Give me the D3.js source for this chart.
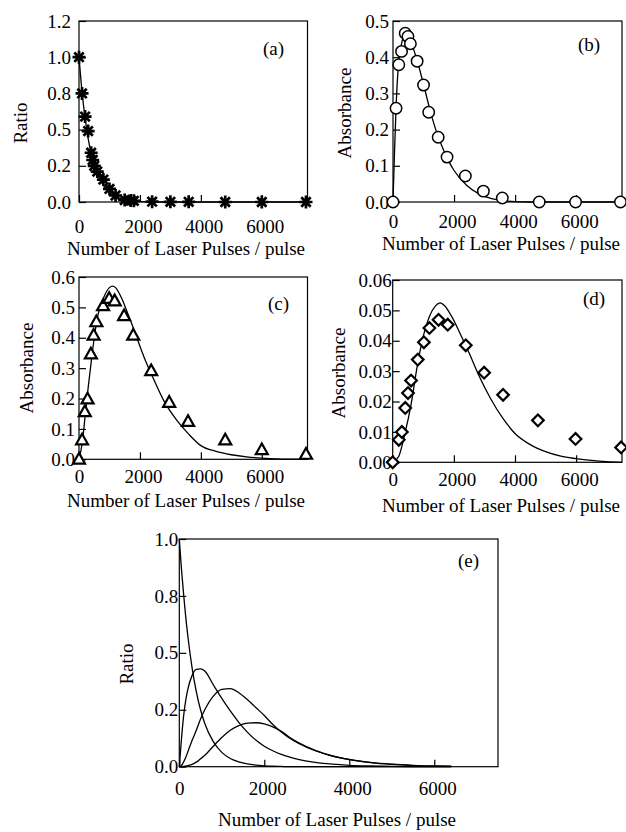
<!DOCTYPE html>
<html><head><meta charset="utf-8">
<script src="https://cdn.jsdelivr.net/npm/d3@7"></script>
<style>body{margin:0;background:#fff} text{font-family:"Liberation Serif","Times New Roman",serif;fill:#000}</style>
</head><body>
<svg id="chart" width="626" height="832"></svg>
<script>
// ---------- data ----------
const xTicks = [0, 2000, 4000, 6000];
const xTickLabels = ["0", "2000", "4000", "6000"];

// panel (a)
const aPulses = [0,100,200,300,400,450,500,600,800,1000,1200,1500,1700,1800,2400,3000,3600,4800,6000,7450];
const aRatio  = [1.0,0.75,0.59,0.49,0.34,0.29,0.25,0.21,0.155,0.09,0.045,0.014,0.01,0.008,0.002,0.001,0.001,0,0,0];
const aFitPulses = [0,100,200,300,400,500,600,800,1000,1200,1500,1800,2200,2600,7500];
const aFitRatio  = [1.0,0.76,0.58,0.44,0.335,0.255,0.195,0.115,0.065,0.037,0.015,0.006,0.002,0,0];
const aYTicks = [0,0.25,0.5,0.75,1.0,1.25];
const aYTickLabels = ["0.0","0.2","0.5","0.8","1.0","1.2"];

// panel (b)
const bPulses = [0,100,190,280,400,490,570,790,1000,1170,1480,1770,2370,2960,3580,4790,5980,7450];
const bAbs    = [0,0.259,0.379,0.416,0.466,0.457,0.437,0.389,0.323,0.248,0.179,0.124,0.072,0.03,0.011,0,0,0];
const bFitPulses = [0,25,50,100,150,200,300,400,500,600,800,1000,1200,1400,1600,1800,2000,2400,2800,3200,3600,4000,4500,7500];
const bFitAbs    = [0,0.07,0.14,0.26,0.345,0.395,0.445,0.465,0.46,0.44,0.388,0.325,0.258,0.2,0.155,0.117,0.087,0.047,0.023,0.01,0.004,0.001,0,0];
const bYTicks = [0,0.1,0.2,0.3,0.4,0.5];
const bYTickLabels = ["0.0","0.1","0.2","0.3","0.4","0.5"];

// panel (c)
const cPulses = [0,100,190,280,390,480,570,790,990,1170,1480,1780,2370,2960,3580,4800,6000,7450];
const cAbs    = [0,0.063,0.156,0.198,0.346,0.408,0.452,0.505,0.529,0.521,0.472,0.408,0.291,0.187,0.124,0.063,0.031,0.016];
const cFitPulses = [0,100,200,300,400,500,600,800,1000,1100,1200,1400,1600,1800,2000,2200,2400,2800,3200,3600,4000,4500,5000,5500,6000,6500,7000,7500];
const cFitAbs    = [0,0.05,0.14,0.235,0.32,0.4,0.465,0.53,0.565,0.57,0.565,0.53,0.48,0.428,0.372,0.32,0.275,0.19,0.13,0.083,0.045,0.026,0.015,0.008,0.004,0.0015,0.0005,0];
const cYTicks = [0,0.1,0.2,0.3,0.4,0.5,0.6];
const cYTickLabels = ["0.0","0.1","0.2","0.3","0.4","0.5","0.6"];

// panel (d)
const dPulses = [0,200,300,410,500,600,820,1020,1200,1500,1800,2390,2990,3610,4750,5980,7470];
const dAbs    = [0,0.0074,0.01,0.0179,0.0228,0.0269,0.0338,0.0395,0.0442,0.0469,0.0453,0.0385,0.0295,0.0222,0.0138,0.0077,0.0049];
const dFitPulses = [0,200,400,600,800,1000,1200,1400,1550,1700,1900,2200,2500,2800,3200,3600,4000,4500,5000,5500,6000,6500,7000,7500];
const dFitAbs    = [0,0.002,0.0095,0.019,0.0315,0.0415,0.048,0.0515,0.0525,0.0515,0.0485,0.0425,0.036,0.029,0.021,0.0145,0.0095,0.0058,0.0035,0.002,0.0012,0.0006,0.0002,0];
const dYTicks = [0,0.01,0.02,0.03,0.04,0.05,0.06];
const dYTickLabels = ["0.00","0.01","0.02","0.03","0.04","0.05","0.06"];

// panel (e)
const ePulses = [0,50,100,150,200,300,400,500,600,800,1000,1200,1400,1600,1800,2000,2200,2400,2600,2800,3200,3600,4000,4500,5000,5500,6000,6400];
const eRatioA = [1.0,0.87,0.76,0.66,0.575,0.435,0.33,0.25,0.19,0.11,0.063,0.036,0.021,0.012,0.007,0.004,0.002,0.001,0,0,0,0,0,0,0,0,0,0];
const eRatioB = [0,0.12,0.22,0.29,0.34,0.40,0.427,0.43,0.42,0.36,0.30,0.245,0.195,0.152,0.117,0.09,0.07,0.054,0.042,0.032,0.019,0.011,0.006,0.003,0.0015,0.0007,0.0003,0];
const eRatioC = [0,0.005,0.02,0.04,0.065,0.115,0.16,0.21,0.25,0.31,0.34,0.343,0.325,0.295,0.26,0.225,0.185,0.152,0.125,0.103,0.07,0.047,0.031,0.018,0.01,0.005,0.0025,0.0015];
const eRatioD = [0,0,0.001,0.003,0.005,0.01,0.02,0.035,0.05,0.09,0.128,0.16,0.18,0.191,0.193,0.188,0.175,0.155,0.128,0.106,0.072,0.048,0.032,0.019,0.011,0.006,0.003,0.002];
const eYTicks = [0,0.25,0.5,0.75,1.0];
const eYTickLabels = ["0.0","0.2","0.5","0.8","1.0"];

const xLabel = "Number of Laser Pulses / pulse";

// ---------- layout ----------
const svg = d3.select("#chart");
const FS = 19;

function zip(xs, ys){ return xs.map((x,i)=>({x, y: ys[i]})); }

const markerPaths = {
  asterisk: "M-6.5,0H6.5M0,-6.5V6.5M-4.7,-4.7L4.7,4.7M-4.7,4.7L4.7,-4.7",
  triangle: "M0,-6.4L6,4.3L-6,4.3Z",
  diamond: "M0,-5.8L5.8,0L0,5.8L-5.8,0Z"
};

function panel(cfg){
  const x = d3.scaleLinear().domain([0,7500]).range([cfg.left, cfg.right]);
  const y = d3.scaleLinear().domain(cfg.yDomain).range([cfg.bottom, cfg.top]);
  const g = svg.append("g");

  // frame
  g.append("rect").attr("x", cfg.left).attr("y", cfg.top)
    .attr("width", cfg.right - cfg.left).attr("height", cfg.bottom - cfg.top)
    .attr("fill", "none").attr("stroke", "#000").attr("stroke-width", 1.2);

  // y axis
  const ya = g.append("g").attr("transform", `translate(${cfg.left},0)`)
    .call(d3.axisLeft(y).tickValues(cfg.yTicks)
      .tickFormat((d,i)=>cfg.yLabels[i]).tickSizeInner(-7).tickSizeOuter(0).tickPadding(cfg.yPad));
  ya.select(".domain").remove();
  ya.selectAll("line").attr("stroke-width", 1.2);
  ya.selectAll("text").attr("font-size", FS).attr("font-family", null);

  // x axis
  const xa = g.append("g").attr("transform", `translate(0,${cfg.bottom})`)
    .call(d3.axisBottom(x).tickValues(xTicks)
      .tickFormat((d,i)=>xTickLabels[i]).tickSizeInner(-7).tickSizeOuter(0));
  xa.select(".domain").remove();
  xa.selectAll("line").attr("stroke-width", 1.2);
  xa.selectAll("text").attr("font-size", FS).attr("font-family", null)
    .attr("y", cfg.xLabDy).attr("dy", 0).attr("dx", d => d === 0 ? 0 : 3);

  // curves
  const line = d3.line().x(d=>x(d.x)).y(d=>y(d.y)).curve(d3.curveMonotoneX);
  cfg.curves.forEach(c=>{
    g.append("path").datum(c).attr("d", line)
      .attr("fill","none").attr("stroke","#000").attr("stroke-width", cfg.lw || 1.3);
  });

  // markers
  if (cfg.points){
    const mk = g.append("g");
    cfg.points.forEach(p=>{
      if (cfg.marker === "circle"){
        mk.append("circle").attr("cx", x(p.x)).attr("cy", y(p.y)).attr("r", 5.7)
          .attr("fill","#fff").attr("stroke","#000").attr("stroke-width",1.5);
      } else {
        mk.append("path").attr("d", markerPaths[cfg.marker])
          .attr("transform", `translate(${x(p.x)},${y(p.y)})`)
          .attr("fill", cfg.marker === "asterisk" ? "none" : "#fff")
          .attr("stroke","#000").attr("stroke-width", cfg.marker === "asterisk" ? 2.7 : 2.2)
          .attr("stroke-linejoin","miter");
      }
    });
  }

  // labels
  g.append("text").attr("x", cfg.xlx).attr("y", cfg.xly).attr("text-anchor","middle")
    .attr("font-size", FS).text(xLabel);
  g.append("text").attr("transform", `translate(${cfg.ylx},${cfg.yly}) rotate(-90)`)
    .attr("text-anchor","middle").attr("font-size", FS).text(cfg.yTitle);
  g.append("text").attr("x", cfg.tagx).attr("y", cfg.tagy).attr("font-size", FS).text(cfg.tag);
}

panel({left:79, right:307.5, top:21, bottom:202, yDomain:[0,1.25], yTicks:aYTicks, yLabels:aYTickLabels, yPad:8,
  xLabDy:31, curves:[zip(aFitPulses,aFitRatio)], points:zip(aPulses,aRatio), marker:"asterisk",
  xlx:186, xly:255, ylx:27, yly:123, yTitle:"Ratio", tag:"(a)", tagx:263, tagy:55});

panel({left:393, right:622, top:21, bottom:202, yDomain:[0,0.5], yTicks:bYTicks, yLabels:bYTickLabels, yPad:4,
  xLabDy:26, curves:[zip(bFitPulses,bFitAbs)], points:zip(bPulses,bAbs), marker:"circle",
  xlx:501, xly:250, ylx:351, yly:113, yTitle:"Absorbance", tag:"(b)", tagx:578, tagy:51});

panel({left:79, right:307.5, top:277, bottom:459.3, yDomain:[0,0.6], yTicks:cYTicks, yLabels:cYTickLabels, yPad:4,
  xLabDy:24, curves:[zip(cFitPulses,cFitAbs)], points:zip(cPulses,cAbs), marker:"triangle",
  xlx:186, xly:507, ylx:33, yly:368, yTitle:"Absorbance", tag:"(c)", tagx:268, tagy:310});

panel({left:392.7, right:622, top:280, bottom:462.3, yDomain:[0,0.06], yTicks:dYTicks, yLabels:dYTickLabels, yPad:1,
  xLabDy:24, curves:[zip(dFitPulses,dFitAbs)], points:zip(dPulses,dAbs), marker:"diamond",
  xlx:501, xly:512, ylx:345, yly:373, yTitle:"Absorbance", tag:"(d)", tagx:583, tagy:305});

panel({left:179.3, right:498, top:539, bottom:766.7, yDomain:[0,1.0], yTicks:eYTicks, yLabels:eYTickLabels, yPad:1,
  xLabDy:28, lw:1.3,
  curves:[zip(ePulses,eRatioA), zip(ePulses,eRatioB), zip(ePulses,eRatioC), zip(ePulses,eRatioD)],
  points:null, xlx:337, xly:826, ylx:133, yly:664, yTitle:"Ratio", tag:"(e)", tagx:458, tagy:567});
</script>
</body></html>
